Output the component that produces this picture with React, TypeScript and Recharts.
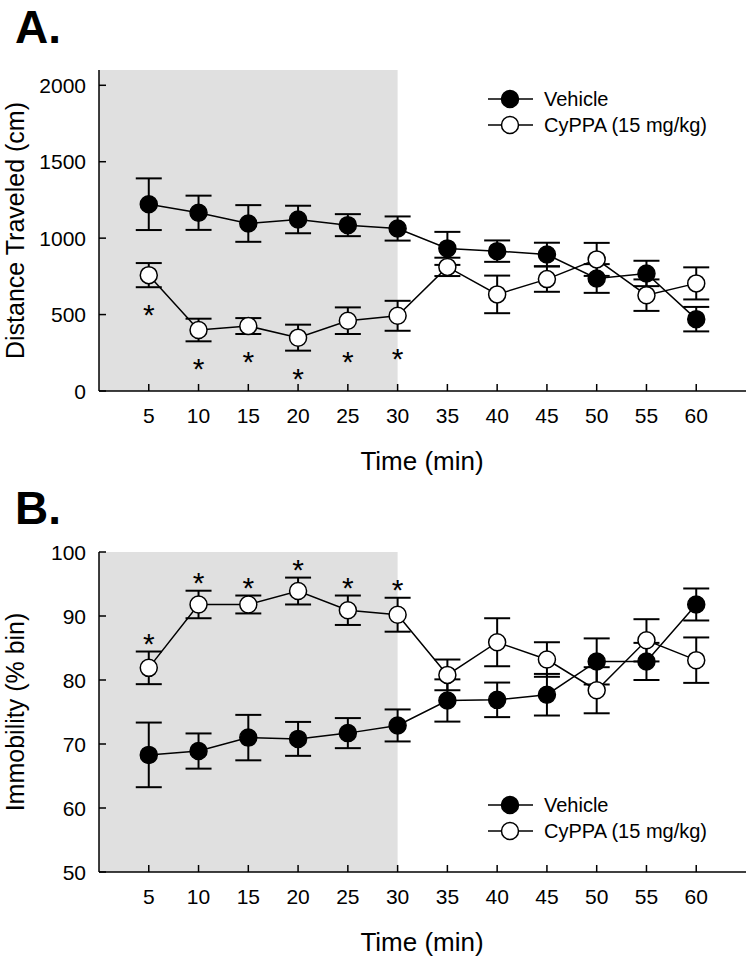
import React from 'react';
import { ComposedChart, Line, Scatter, XAxis, YAxis, ReferenceArea, ErrorBar, Legend, Label } from 'recharts';

const FONT = '"Liberation Sans", Arial, sans-serif';

const times = [5, 10, 15, 20, 25, 30, 35, 40, 45, 50, 55, 60];
const timeTicks = [5, 10, 15, 20, 25, 30, 35, 40, 45, 50, 55, 60];

// A. distance traveled (cm), mean and SEM
const distVehicle = [1222, 1166, 1096, 1122, 1085, 1063, 933, 915, 893, 736, 769, 470];
const distVehicleSem = [169, 112, 120, 90, 72, 79, 108, 70, 77, 94, 83, 80];
const distCyppa = [758, 399, 425, 349, 460, 492, 812, 632, 732, 861, 627, 704];
const distCyppaSem = [79, 74, 52, 85, 87, 98, 60, 123, 83, 108, 103, 105];
const distTicks = [0, 500, 1000, 1500, 2000];

// B. immobility (% bin), mean and SEM
const immVehicle = [68.3, 68.9, 71.0, 70.8, 71.7, 72.9, 76.8, 76.9, 77.7, 82.9, 82.9, 91.8];
const immVehicleSem = [5.05, 2.75, 3.55, 2.65, 2.35, 2.5, 3.3, 2.7, 3.25, 3.6, 2.9, 2.5];
const immCyppa = [81.9, 91.8, 91.8, 93.9, 90.9, 90.2, 80.8, 85.9, 83.2, 78.4, 86.2, 83.1];
const immCyppaSem = [2.55, 2.15, 1.4, 2.1, 2.3, 2.65, 2.4, 3.75, 2.7, 3.6, 3.3, 3.55];
const immTicks = [50, 60, 70, 80, 90, 100];

// * p < 0.05 vs vehicle
const significant = [true, true, true, true, true, true, false, false, false, false, false, false];

const distData = times.map((t, i) => ({
  t,
  veh: distVehicle[i],
  vehErr: distVehicleSem[i],
  cy: distCyppa[i],
  cyErr: distCyppaSem[i],
  star: significant[i] ? distCyppa[i] - distCyppaSem[i] : null,
}));

const immData = times.map((t, i) => ({
  t,
  veh: immVehicle[i],
  vehErr: immVehicleSem[i],
  cy: immCyppa[i],
  cyErr: immCyppaSem[i],
  star: significant[i] ? immCyppa[i] + immCyppaSem[i] : null,
}));

const XTick = (props: any) => {
  const { x, y, payload } = props;
  return (
    <g>
      <line x1={x} x2={x} y1={y} y2={y - 7} stroke="#000" strokeWidth={1.5} />
      <text x={x} y={y + 32} textAnchor="middle" fontSize={21} fontFamily={FONT} fill="#000">
        {payload.value}
      </text>
    </g>
  );
};

const YTick = (props: any) => {
  const { x, y, payload } = props;
  return (
    <g>
      <line x1={x} x2={x + 7} y1={y} y2={y} stroke="#000" strokeWidth={1.5} />
      <text x={x - 13} y={y + 7.5} textAnchor="end" fontSize={21} fontFamily={FONT} fill="#000">
        {payload.value}
      </text>
    </g>
  );
};

const makeStar = (dy: number) => (props: any) => {
  const { cx, cy, payload } = props;
  if (payload == null || payload.star == null || !isFinite(cy)) return <g />;
  return (
    <text x={cx} y={cy + dy} textAnchor="middle" fontSize={30} fontFamily={FONT} fill="#000">
      *
    </text>
  );
};

const StarBelow = makeStar(38);
const StarAbove = makeStar(2);

const LegendBox = () => {
  const row = (filled: boolean, text: string) => (
    <div style={{ display: 'flex', alignItems: 'center', height: 26 }}>
      <svg width={58} height={26} style={{ display: 'block' }}>
        <line x1={2} x2={47} y1={13} y2={13} stroke="#000" strokeWidth={1.5} />
        <circle cx={24} cy={13} r={8.5} fill={filled ? '#000' : '#fff'} stroke="#000" strokeWidth={1.5} />
      </svg>
      <span style={{ fontSize: 20, fontFamily: FONT, color: '#000', whiteSpace: 'nowrap' }}>{text}</span>
    </div>
  );
  return (
    <div>
      {row(true, 'Vehicle')}
      {row(false, 'CyPPA (15 mg/kg)')}
    </div>
  );
};

const Panel = ({ data, domain, ticks, yLabel, legendTop, star, marginTop, xAxisHeight, height }: any) => {
  const plotBottom = height - xAxisHeight;
  const plotMid = (marginTop + plotBottom) / 2;
  return (
    <ComposedChart
      width={751}
      height={height}
      data={data}
      margin={{ top: marginTop, right: 5, left: 0, bottom: 0 }}
    >
      <ReferenceArea x1={0} x2={30} fill="#e0e0e0" fillOpacity={1} stroke="none" />
      <XAxis
        dataKey="t"
        type="number"
        domain={[0, 65]}
        ticks={timeTicks}
        height={xAxisHeight}
        tickSize={0}
        tickMargin={0}
        tickLine={false}
        axisLine={{ stroke: '#000', strokeWidth: 1.5 }}
        tick={<XTick />}
        interval={0}
      >
        <Label
          content={() => (
            <text x={422} y={plotBottom + 79} textAnchor="middle" fontSize={26} fontFamily={FONT} fill="#000">
              Time (min)
            </text>
          )}
        />
      </XAxis>
      <YAxis
        type="number"
        domain={domain}
        ticks={ticks}
        width={99}
        tickSize={0}
        tickMargin={0}
        tickLine={false}
        axisLine={{ stroke: '#000', strokeWidth: 1.5 }}
        tick={<YTick />}
        interval={0}
        allowDataOverflow
      >
        <Label
          content={() => (
            <text
              x={24}
              y={plotMid}
              transform={`rotate(-90, 24, ${plotMid})`}
              textAnchor="middle"
              fontSize={25}
              fontFamily={FONT}
              fill="#000"
            >
              {yLabel}
            </text>
          )}
        />
      </YAxis>
      <Line
        dataKey="veh"
        type="linear"
        stroke="#000"
        strokeWidth={1.5}
        dot={{ r: 8.5, fill: '#000', stroke: '#000', strokeWidth: 1.5 }}
        activeDot={false}
        isAnimationActive={false}
      >
        <ErrorBar dataKey="vehErr" direction="y" width={13} stroke="#000" strokeWidth={2} />
      </Line>
      <Line
        dataKey="cy"
        type="linear"
        stroke="#000"
        strokeWidth={1.5}
        dot={{ r: 8.5, fill: '#fff', stroke: '#000', strokeWidth: 1.5 }}
        activeDot={false}
        isAnimationActive={false}
      >
        <ErrorBar dataKey="cyErr" direction="y" width={13} stroke="#000" strokeWidth={2} />
      </Line>
      <Scatter dataKey="star" shape={star} isAnimationActive={false} legendType="none" />
      <Legend
        layout="vertical"
        align="center"
        verticalAlign="middle"
        content={<LegendBox />}
        wrapperStyle={{ left: 486, top: legendTop, width: 260 }}
      />
    </ComposedChart>
  );
};

export default function App() {
  return (
    <div style={{ position: 'absolute', left: 0, top: 0, width: 751, height: 964, background: '#fff' }}>
      <div
        style={{ position: 'absolute', left: 15, top: 5, fontSize: 46, fontWeight: 'bold', fontFamily: FONT, lineHeight: '44px' }}
      >
        A.
      </div>
      <div
        style={{ position: 'absolute', left: 15, top: 486, fontSize: 46, fontWeight: 'bold', fontFamily: FONT, lineHeight: '44px' }}
      >
        B.
      </div>
      <div style={{ position: 'absolute', left: 0, top: 0 }}>
        <Panel
          data={distData}
          domain={[0, 2100]}
          ticks={distTicks}
          yLabel="Distance Traveled (cm)"
          legendTop={86}
          star={StarBelow}
          marginTop={70}
          xAxisHeight={89}
          height={480}
        />
      </div>
      <div style={{ position: 'absolute', left: 0, top: 480 }}>
        <Panel
          data={immData}
          domain={[50, 100]}
          ticks={immTicks}
          yLabel="Immobility (% bin)"
          legendTop={312}
          star={StarAbove}
          marginTop={72}
          xAxisHeight={92}
          height={484}
        />
      </div>
    </div>
  );
}
